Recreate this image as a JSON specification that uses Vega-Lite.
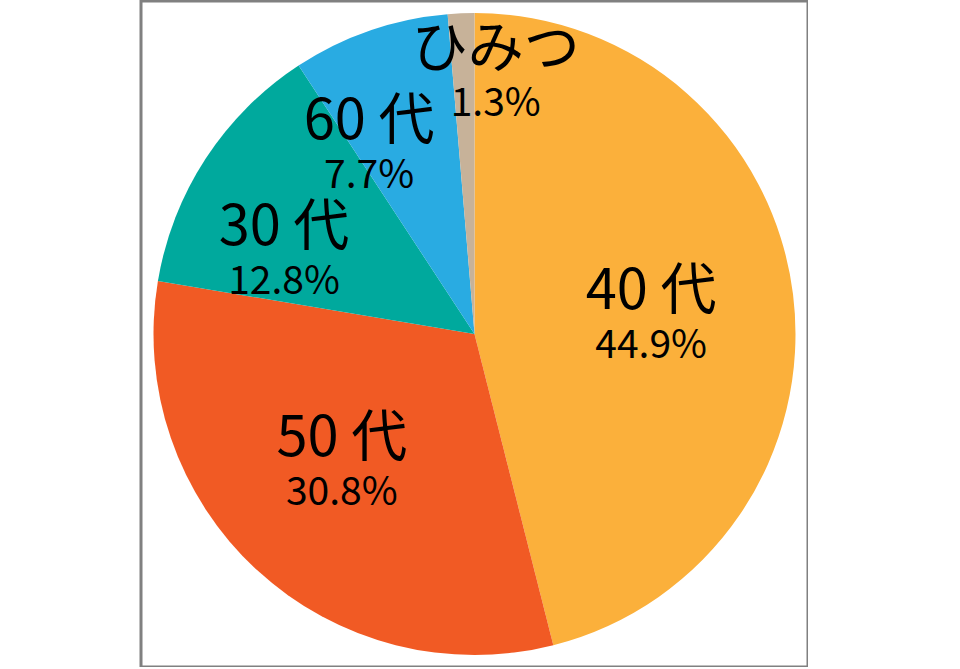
{
  "$schema": "https://vega.github.io/schema/vega-lite/v6.json",
  "description": "年代別の割合（円グラフ）",
  "width": 667,
  "height": 666,
  "autosize": {"type": "none"},
  "padding": {"left": 141, "top": 1, "right": 0, "bottom": 0},
  "background": "white",
  "config": {"view": {"stroke": null}},
  "data": {
    "values": [
      {"age": "40 代", "pct": 0.449, "order": 1},
      {"age": "50 代", "pct": 0.308, "order": 2},
      {"age": "30 代", "pct": 0.128, "order": 3},
      {"age": "60 代", "pct": 0.077, "order": 4},
      {"age": "ひみつ", "pct": 0.013, "order": 5}
    ]
  },
  "layer": [
    {
      "data": {"values": [{"frame": 1}]},
      "mark": {"type": "rect", "fill": null, "stroke": "#808080", "strokeWidth": 3},
      "encoding": {}
    },
    {
      "mark": {"type": "arc", "outerRadius": 321, "stroke": null},
      "encoding": {
        "theta": {"field": "pct", "type": "quantitative", "stack": true},
        "order": {"field": "order", "type": "quantitative"},
        "color": {
          "field": "age",
          "type": "nominal",
          "scale": {
            "domain": ["40 代", "50 代", "30 代", "60 代", "ひみつ"],
            "range": ["#FBB03B", "#F15A24", "#00A99D", "#29ABE2", "#C7B299"]
          },
          "legend": null
        }
      }
    },
    {
      "mark": {
        "type": "text",
        "font": "Noto Sans CJK JP",
        "fontSize": 56,
        "color": "black",
        "align": "center",
        "baseline": "middle",
        "radius": {"expr": "datum.age === '40 代' ? 178 : datum.age === '50 代' ? 187 : datum.age === '30 代' ? 206 : datum.age === '60 代' ? 213 : 257"},
        "dx": {"expr": "datum.age === '50 代' ? -6 : datum.age === '30 代' ? -18 : datum.age === '60 代' ? -36 : datum.age === 'ひみつ' ? 32 : 0"},
        "dy": {"expr": "(datum.age === '40 代' ? 7 : datum.age === '50 代' ? -6 : datum.age === '30 代' ? 34 : datum.age === '60 代' ? 16 : 0) - 27"}
      },
      "encoding": {
        "theta": {"field": "pct", "type": "quantitative", "stack": true},
        "order": {"field": "order", "type": "quantitative"},
        "text": {"field": "age", "type": "nominal"}
      }
    },
    {
      "mark": {
        "type": "text",
        "font": "Noto Sans CJK JP",
        "fontSize": 39,
        "color": "black",
        "align": "center",
        "baseline": "middle",
        "radius": {"expr": "datum.age === '40 代' ? 178 : datum.age === '50 代' ? 187 : datum.age === '30 代' ? 206 : datum.age === '60 代' ? 213 : 257"},
        "dx": {"expr": "datum.age === '50 代' ? -6 : datum.age === '30 代' ? -18 : datum.age === '60 代' ? -36 : datum.age === 'ひみつ' ? 32 : 0"},
        "dy": {"expr": "(datum.age === '40 代' ? 7 : datum.age === '50 代' ? -6 : datum.age === '30 代' ? 34 : datum.age === '60 代' ? 16 : 0) + 27"}
      },
      "encoding": {
        "theta": {"field": "pct", "type": "quantitative", "stack": true},
        "order": {"field": "order", "type": "quantitative"},
        "text": {"field": "pct", "type": "quantitative", "format": ".1%"}
      }
    }
  ]
}
